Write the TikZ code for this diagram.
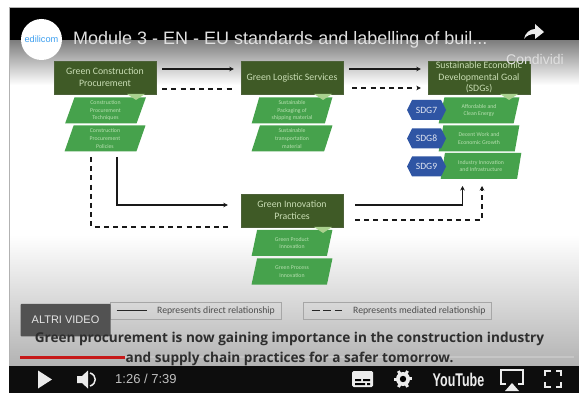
\documentclass[tikz,border=0pt]{standalone}
\usepackage{fontspec}
\setmainfont{Carlito}
\newfontfamily\robo{Liberation Sans}
\newfontfamily\capf{Open Sans}
\usetikzlibrary{shapes.geometric,arrows.meta,calc}
\definecolor{darkgr}{HTML}{3F5A26}
\definecolor{midgr}{HTML}{46A24C}
\definecolor{ltgr}{HTML}{A9D08E}
\definecolor{hexbl}{HTML}{2F55A4}
\definecolor{boxtxt}{HTML}{C9DDB4}
\definecolor{smalltxt}{HTML}{B7E0B0}
\definecolor{logoblue}{HTML}{3FA0F0}
\tikzset{
  x=1pt,y=-1pt,
  mainbox/.style={fill=darkgr,draw=darkgr!80!gray,line width=.4pt,minimum width=102pt,minimum height=33pt,inner sep=0pt,align=center,text=boxtxt,font=\fontsize{9.8}{12.2}\selectfont},
  para/.style={trapezium,trapezium left angle=77,trapezium right angle=103,fill=midgr,minimum height=26pt,trapezium stretches=true,minimum width=81pt,inner sep=0pt,align=center,text=smalltxt,font=\fontsize{5.8}{7.6}\selectfont},
  solidln/.style={line width=1.25pt,draw=black!90},
  dashln/.style={line width=1.25pt,draw=black!90,dash pattern=on 5pt off 4.2pt},
  tip/.style={-{Stealth[length=4.5pt,width=4.5pt]}},
  legendbox/.style={draw=gray!70,line width=.6pt,minimum height=17pt,inner sep=0pt},
  legendtxt/.style={text=black!70,font=\fontsize{9.7}{11}\selectfont,inner sep=0pt},
  captxt/.style={font=\capf\bfseries\fontsize{13.6}{15}\selectfont,text=black!82,inner sep=0pt},
  ctrl/.style={fill=white!92!black,draw=none},
}
\begin{document}
\begin{tikzpicture}
\useasboundingbox (0,0) rectangle (579,393);
\fill[white] (0,0) rectangle (579,393);
% screen
\fill[white] (9,41) rectangle (579,366);
\fill[black] (9,8) rectangle (579,41);
\shade[top color=black!50,bottom color=white] (9,41) rectangle (579,85);
\shade[top color=white,bottom color=black!30] (9,235) rectangle (579,366);
\draw[gray!60,line width=.5pt] (9,8) -- (9,366);
\draw[gray!60,line width=.5pt] (9,7.7) -- (579,7.7);
\fill[black!95] (9,366) rectangle (579,393);
% logo and title
\node[circle,fill=white,minimum size=41pt,inner sep=0pt] (logo) at (41.5,39.5) {};
\node[text=logoblue,font=\robo\fontsize{9.2}{10}\selectfont,inner sep=0pt] (logotxt) at (logo) {edilicom};
\node[anchor=west,text=white!88!black,font=\robo\fontsize{18}{20}\selectfont,inner sep=0pt] (title) at (73,40) {Module 3 - EN - EU standards and labelling of buil...};
% share
\fill[white!92!black] (524,39) .. controls (525,33) and (530,29) .. (535,29) -- (535,24) -- (544,32) -- (535,39) -- (535,34) .. controls (531,34) and (527,35) .. (524,39) -- cycle;
% main boxes
\node[mainbox] (gcp) at (105,77.5) {Green Construction\\Procurement};
\node[mainbox] (gls) at (292,77.5) {Green Logistic Services};
\node[mainbox,font=\fontsize{9.8}{11.6}\selectfont] (sdg) at (479,77.5) {Sustainable Economic\\Developmental Goal\\(SDGs)};
\node[mainbox] (gip) at (292,210.5) {Green Innovation\\Practices};
\node[text=white!75!gray,font=\robo\fontsize{14}{16}\selectfont,inner sep=0pt] (cond) at (535,59) {Condividi};
% parallelograms
\node[para] (p1) at (105.5,110.5) {Construction\\Procurement\\Techniques};
\node[para] (p2) at (105,138.5) {Construction\\Procurement\\Policies};
\node[para] (p3) at (292,110.5) {Sustainable\\Packaging of\\shipping material};
\node[para] (p4) at (292,138.5) {Sustainable\\transportation\\material};
\node[para] (p5) at (479,110.5) {Affordable and\\Clean Energy};
\node[para] (p6) at (479,138.5) {Decent Work and\\Economic Growth};
\node[para] (p7) at (481,166) {Industry Innovation\\and Infrastructure};
\node[para] (p8) at (292,243) {Green Product\\Innovation};
\node[para] (p9) at (292,271.5) {Green Process\\Innovation};
% chevrons
\foreach \cx/\cy in {136/94,323/94,509/94,323/227}
  \fill[ltgr] (\cx-9,\cy) -- (\cx+9,\cy) -- (\cx,\cy+6) -- cycle;
% hexagons
\foreach \nm/\cy/\lab in {h7/110/SDG7,h8/138.5/SDG8,h9/166.5/SDG9}{
  \fill[hexbl] (407,\cy) -- (412,\cy-10) -- (441,\cy-10) -- (446,\cy) -- (441,\cy+10) -- (412,\cy+10) -- cycle;
  \node[text=white!85!hexbl,font=\fontsize{9.6}{10}\selectfont,inner sep=0pt] (\nm) at (426.5,\cy) {\lab};
}
% connectors
\coordinate (a1) at ($(gcp.east)+(6,-8.5)$);
\coordinate (a2) at ($(gls.west)+(-7,-8.5)$);
\coordinate (b1) at ($(gcp.east)+(6,11.5)$);
\coordinate (b2) at ($(gls.west)+(-9,11.5)$);
\coordinate (c1) at ($(gls.east)+(6,-8.5)$);
\coordinate (c2) at ($(sdg.west)+(-7,-8.5)$);
\coordinate (d1) at ($(gls.east)+(9,10.5)$);
\coordinate (d2) at ($(sdg.west)+(-7,10.5)$);
\coordinate (e1) at (117,157);
\coordinate (e2) at ($(gip.west)+(-13,-5.5)$);
\coordinate (f1) at (91,157);
\coordinate (f2) at (228,227);
\coordinate (g1) at (355,205);
\coordinate (g2) at (462.5,186);
\coordinate (k1) at (355,220);
\coordinate (k2) at (482,186);
\draw[solidln,tip] (a1) -- (a2);
\draw[dashln] (b1) -- (b2);
\draw[solidln,tip] (c1) -- (c2);
\draw[dashln,tip] (d1) -- (d2);
\draw[solidln,tip] (e1) |- (e2);
\draw[dashln] (f1) |- (f2);
\draw[solidln,tip] (g1) -| (g2);
\draw[dashln,tip] (k1) -| (k2);
% legend
\node[legendbox,minimum width=171pt] (l1) at (195.5,310.5) {};
\node[legendbox,minimum width=188pt] (l2) at (397,310.5) {};
\coordinate (m1) at ($(l1.west)+(7,0)$);
\coordinate (m2) at ($(l1.west)+(37,0)$);
\coordinate (n1) at ($(l2.west)+(9,0)$);
\coordinate (n2) at ($(l2.west)+(39,0)$);
\draw[line width=1.1pt,black!85] (m1) -- (m2);
\draw[line width=1.3pt,black!85,dash pattern=on 8pt off 3.5pt] (n1) -- (n2);
\node[legendtxt,anchor=west] (l1t) at (157,310.5) {Represents direct relationship};
\node[legendtxt,anchor=west] (l2t) at (353,310.5) {Represents mediated relationship};
% more videos
\node[fill=black!68,rounded corners=1pt,minimum width=90pt,minimum height=32.5pt,inner sep=0pt,text=white!90!black,font=\robo\fontsize{11}{12}\selectfont] (altri) at (65.5,320) {ALTRI VIDEO};
% captions
\node[captxt] (cap1) at (289.5,339) {Green procurement is now gaining importance in the construction industry};
\fill[gray!45] (125,356.3) rectangle (574,358);
\node[captxt] (cap2) at (289.5,358.5) {and supply chain practices for a safer tomorrow.};
\fill[red!75!black!90!white] (20,355.5) rectangle (125,358.5);
% controls
\fill[ctrl] (38,370.5) -- (52,379.5) -- (38,388.5) -- cycle;
\fill[ctrl] (77,376) -- (82,376) -- (88,370.5) -- (88,388.5) -- (82,383) -- (77,383) -- cycle;
\draw[white!92!black,line width=1.5pt] (90,373) .. controls (97,375) and (97,384) .. (90,386);
\node[anchor=west,text=white!75!black,font=\robo\fontsize{13}{14}\selectfont,inner sep=0pt] (time) at (115,378.5) {1:26 / 7:39};
\fill[ctrl,rounded corners=1.5pt] (352,371) rectangle (373,387);
\fill[black] (355,379) rectangle (361,381) (363,379) rectangle (370,381) (355,383) rectangle (365,385) (367,383) rectangle (370,385);
\fill[ctrl] (403,379) circle[radius=7pt];
\foreach \a in {0,60,...,300}
  \fill[ctrl] (403,379) ++(\a-14:6pt) -- ++(\a:3.4pt) -- ++(\a+90:3pt) -- ++(\a+180:3.4pt) -- cycle;
\fill[black] (403,379) circle[radius=3.2pt];
\node[text=white!92!black,font=\robo\bfseries\fontsize{16}{17}\selectfont,inner sep=0pt] (yt) at (458.5,379.5) {\scalebox{.78}[1.15]{YouTube}};
\draw[white!92!black,line width=1.5pt] (506,384) -- (501,384) -- (501,370) -- (523,370) -- (523,384) -- (518,384);
\fill[ctrl] (505,391) -- (512,383) -- (519,391) -- cycle;
\draw[white!92!black,line width=1.6pt] (545,376) -- (545,371) -- (551,371) (556,371) -- (561,371) -- (561,376) (561,382) -- (561,387) -- (556,387) (551,387) -- (545,387) -- (545,382);
\end{tikzpicture}
\end{document}
